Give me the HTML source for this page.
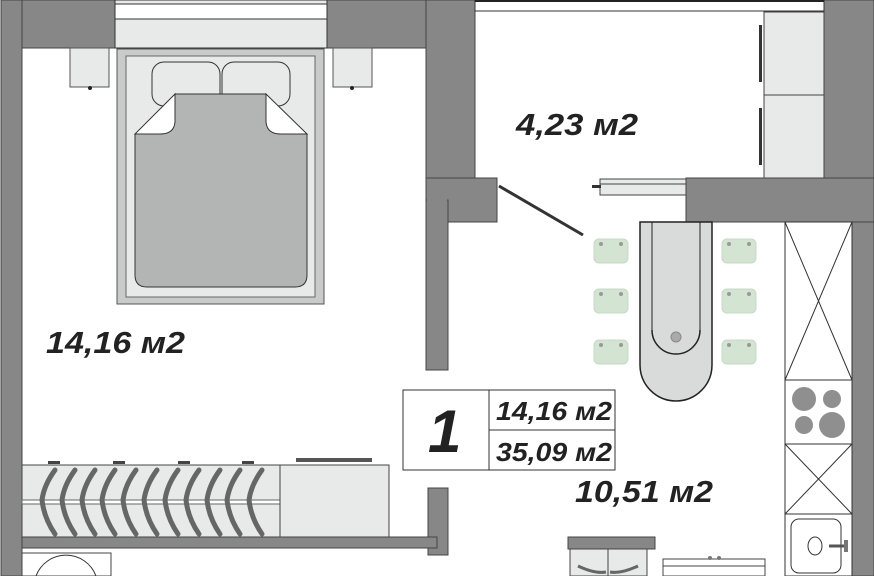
<!DOCTYPE html>
<html><head><meta charset="utf-8"><style>
html,body{margin:0;padding:0;background:#fff;width:874px;height:576px;overflow:hidden}
svg{display:block}
text{font-family:"Liberation Sans",sans-serif;font-weight:bold;font-style:italic;fill:#222}
</style></head><body>
<svg width="874" height="576" viewBox="0 0 874 576" xmlns="http://www.w3.org/2000/svg" overflow="hidden">
<rect width="874" height="576" fill="#fff"/>
<g fill="#878787" stroke="#444" stroke-width="1">
<rect x="1" y="0" width="114" height="48"/>
<rect x="1" y="0" width="21" height="576"/>
<rect x="327" y="0" width="148" height="48"/>
<rect x="426" y="0" width="49" height="178"/>
<rect x="426" y="178" width="71" height="44"/>
<rect x="426" y="200" width="22" height="170"/>
<rect x="428" y="488" width="20" height="67"/>
<rect x="22" y="537" width="415" height="11"/>
<rect x="824" y="0" width="50" height="222"/>
<rect x="852" y="200" width="22" height="376"/>
<rect x="686" y="178" width="188" height="44"/>
<rect x="568" y="537" width="87" height="12"/>
</g>
<rect x="427" y="179" width="20" height="42" fill="#878787"/>
<rect x="115" y="0" width="212" height="48" fill="#e8e9e9" stroke="#333"/>
<rect x="115" y="4" width="212" height="15" fill="#fff" stroke="#333"/>
<rect x="475" y="0" width="349" height="11" fill="#fff" stroke="#333"/>
<line x1="475" y1="1" x2="824" y2="1" stroke="#222" stroke-width="2"/>
<rect x="70" y="48" width="39" height="39" fill="#e8e9e9" stroke="#555"/>
<rect x="333" y="48" width="39" height="39" fill="#e8e9e9" stroke="#555"/>
<circle cx="90" cy="88" r="2" fill="#222"/><circle cx="352" cy="88" r="2" fill="#222"/>
<rect x="117" y="49" width="207" height="255" fill="#c9caca" stroke="#555"/>
<rect x="126" y="56" width="189" height="241" fill="#e8e9e9" stroke="#666"/>
<rect x="152" y="62" width="68" height="44" rx="12" fill="#e8e9e9" stroke="#333"/>
<rect x="222" y="62" width="68" height="44" rx="12" fill="#e8e9e9" stroke="#333"/>
<path d="M175 94 L266 94 L266 122 Q270 134 281 134 L307 134 L307 275 Q307 287 295 287 L147 287 Q135 287 135 275 L135 134 L160 134 Q172 134 175 122 Z" fill="#b3b5b5" stroke="#333"/>
<path d="M175 94 L135 134 L160 134 Q174 134 175 122 Z" fill="#fff" stroke="#333"/>
<path d="M266 94 L307 134 L281 134 Q267 134 266 122 Z" fill="#fff" stroke="#333"/>
<rect x="764" y="12" width="60" height="83" fill="#e8e9e9" stroke="#444"/>
<rect x="764" y="95" width="60" height="83" fill="#e8e9e9" stroke="#444"/>
<rect x="759" y="25" width="3" height="57" fill="#333"/>
<rect x="759" y="108" width="3" height="57" fill="#333"/>
<rect x="600" y="179" width="86" height="16" fill="#e8e9e9" stroke="#444"/>
<line x1="600" y1="184" x2="686" y2="184" stroke="#444"/>
<rect x="592" y="185" width="9" height="3" fill="#333"/>
<line x1="499" y1="186" x2="583" y2="235" stroke="#333" stroke-width="3"/>
<path d="M640 222 L712 222 L712 365 A36 36 0 0 1 640 365 Z" fill="#d9dada" stroke="#222" stroke-width="1.5"/>
<line x1="652" y1="222" x2="652" y2="330" stroke="#222"/>
<line x1="700" y1="222" x2="700" y2="330" stroke="#222"/>
<path d="M652 330 A24 24 0 0 0 700 330" fill="none" stroke="#222" stroke-width="1.5"/>
<circle cx="676" cy="337" r="5" fill="#aaa" stroke="#888"/>
<g fill="#d3e4d3" stroke="#c8d8c8">
<rect x="594" y="239" width="34" height="24" rx="5"/>
<rect x="594" y="289" width="34" height="24" rx="5"/>
<rect x="594" y="340" width="34" height="24" rx="5"/>
<rect x="722" y="239" width="34" height="24" rx="5"/>
<rect x="722" y="289" width="34" height="24" rx="5"/>
<rect x="722" y="340" width="34" height="24" rx="5"/>
</g>
<g fill="#999">
<circle cx="601" cy="244" r="2"/><circle cx="621" cy="244" r="2"/><circle cx="601" cy="294" r="2"/><circle cx="621" cy="294" r="2"/><circle cx="601" cy="345" r="2"/><circle cx="621" cy="345" r="2"/>
<circle cx="729" cy="244" r="2"/><circle cx="749" cy="244" r="2"/><circle cx="729" cy="294" r="2"/><circle cx="749" cy="294" r="2"/><circle cx="729" cy="345" r="2"/><circle cx="749" cy="345" r="2"/>
</g>
<g fill="#fff" stroke="#333">
<rect x="785" y="222" width="67" height="158"/>
<rect x="785" y="380" width="67" height="64"/>
<rect x="785" y="444" width="67" height="70"/>
<rect x="785" y="514" width="67" height="62"/>
</g>
<path d="M785 222 L852 380 M852 222 L785 380 M785 444 L852 514 M852 444 L785 514" stroke="#333" fill="none"/>
<g fill="#8f8f8f"><circle cx="804" cy="399" r="12"/><circle cx="832" cy="399" r="9"/><circle cx="804" cy="425" r="9"/><circle cx="832" cy="425" r="13"/></g>
<rect x="791" y="519" width="50" height="54" rx="8" fill="#fff" stroke="#333"/>
<ellipse cx="815" cy="546" rx="7" ry="9" fill="#fff" stroke="#333"/>
<line x1="829" y1="546" x2="845" y2="546" stroke="#555" stroke-width="3"/>
<rect x="844" y="540" width="4" height="12" fill="#777"/>
<rect x="22" y="465" width="258" height="72" fill="#e8e9e9" stroke="#444"/>
<rect x="22" y="500" width="258" height="4" fill="#fff" stroke="#666"/>
<g stroke="#666" stroke-width="5" fill="none" stroke-linecap="round">
<path d="M55 470 Q44 485 42 500 Q44 518 55 534"/>
<path d="M75 470 Q64 485 62 500 Q64 518 75 534"/>
<path d="M95 470 Q84 485 82 500 Q84 518 95 534"/>
<path d="M115 470 Q104 485 102 500 Q104 518 115 534"/>
<path d="M136 470 Q125 485 123 500 Q125 518 136 534"/>
<path d="M157 470 Q146 485 144 500 Q146 518 157 534"/>
<path d="M178 470 Q167 485 165 500 Q167 518 178 534"/>
<path d="M199 470 Q188 485 186 500 Q188 518 199 534"/>
<path d="M220 470 Q209 485 207 500 Q209 518 220 534"/>
<path d="M240 470 Q229 485 227 500 Q229 518 240 534"/>
<path d="M262 470 Q251 485 249 500 Q251 518 262 534"/>
</g>
<g fill="#444"><rect x="48" y="461" width="12" height="3"/><rect x="113" y="461" width="12" height="3"/><rect x="178" y="461" width="12" height="3"/><rect x="242" y="461" width="12" height="3"/></g>
<rect x="280" y="465" width="109" height="72" fill="#e8e9e9" stroke="#444"/>
<rect x="296" y="458" width="76" height="4" fill="#555"/>
<rect x="22" y="553" width="89" height="23" fill="#fff" stroke="#444"/>
<path d="M36 576 A32 32 0 0 1 96 576" fill="none" stroke="#333"/>
<rect x="570" y="549" width="77" height="27" fill="#e8e9e9" stroke="#444"/>
<line x1="608" y1="549" x2="608" y2="576" stroke="#444"/>
<path d="M578 566 Q595 574 606 572 M638 566 Q621 574 610 572" stroke="#666" stroke-width="3" fill="none"/>
<rect x="663" y="559" width="102" height="17" fill="#fff" stroke="#444"/>
<line x1="663" y1="566" x2="765" y2="566" stroke="#444"/>
<circle cx="710" cy="558" r="2" fill="#777"/><circle cx="719" cy="558" r="2" fill="#777"/>
<rect x="403" y="390" width="212" height="80" fill="#fff" stroke="#333"/>
<line x1="489" y1="390" x2="489" y2="470" stroke="#333"/>
<line x1="489" y1="430" x2="615" y2="430" stroke="#333"/>
<text x="428" y="452" font-size="60">1</text>
<text x="496" y="420" font-size="26" textLength="116" lengthAdjust="spacingAndGlyphs">14,16 м2</text>
<text x="496" y="461" font-size="26" textLength="116" lengthAdjust="spacingAndGlyphs">35,09 м2</text>
<text x="516" y="135" font-size="31" textLength="122" lengthAdjust="spacingAndGlyphs">4,23 м2</text>
<text x="46" y="353" font-size="31" textLength="139" lengthAdjust="spacingAndGlyphs">14,16 м2</text>
<text x="575" y="502" font-size="31" textLength="138" lengthAdjust="spacingAndGlyphs">10,51 м2</text>
</svg>
</body></html>
